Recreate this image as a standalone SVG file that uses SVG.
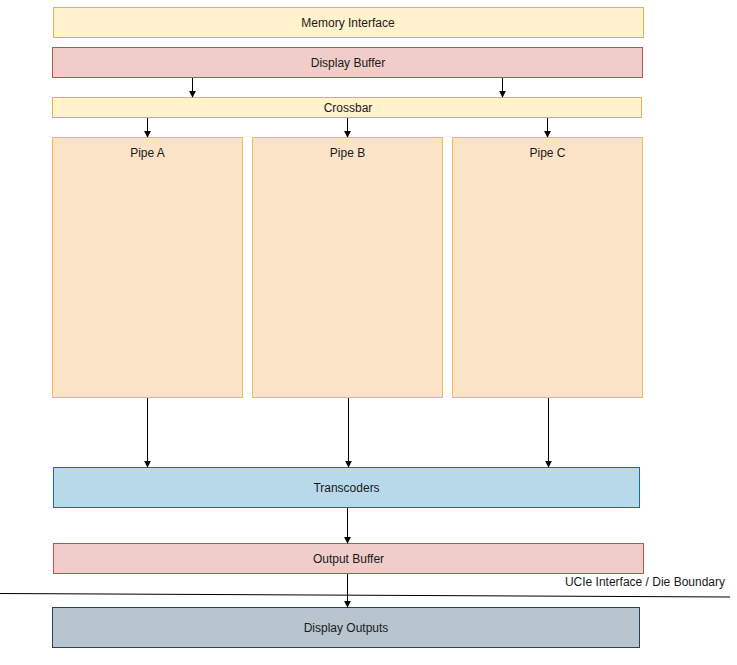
<svg xmlns="http://www.w3.org/2000/svg" width="737" height="665" viewBox="0 0 737 665">
<style>
text{font-family:"Liberation Sans",Arial,sans-serif;font-size:12px;fill:#1a1a1a;text-anchor:middle;dominant-baseline:central}
.y{fill:#fff2cc;stroke:#d6b656}
.r{fill:#f0cdc9;stroke:#b85450}
.o{fill:#fae3c7;stroke:#d79b00;stroke-opacity:0.6}
.b{fill:#b8d9ea;stroke:#10739e}
.g{fill:#b8c5ce;stroke:#23445d}
.c{stroke:#000;stroke-width:1;fill:none;marker-end:url(#ah)}
</style>
<defs>
<marker id="ah" viewBox="0 0 10 10" refX="9" refY="5" markerWidth="7" markerHeight="7" markerUnits="userSpaceOnUse" orient="auto">
<path d="M0,0 L10,5 L0,10 z" fill="#000"/>
</marker>
</defs>
<rect width="737" height="665" fill="#fff"/>
<g id="memory-interface"><rect class="y" x="53.5" y="7.5" width="590" height="30"/><text x="348" y="22.5">Memory Interface</text></g>
<g id="display-buffer"><rect class="r" x="52.5" y="47.5" width="590" height="30"/><text x="348" y="62.5">Display Buffer</text></g>
<g id="crossbar"><rect class="y" x="52.5" y="97.5" width="589" height="20"/><text x="348" y="107.5">Crossbar</text></g>
<g id="pipe-a"><rect class="o" x="52.5" y="137.5" width="190" height="260"/><text x="147.5" y="152.5">Pipe A</text></g>
<g id="pipe-b"><rect class="o" x="252.5" y="137.5" width="190" height="260"/><text x="347.5" y="152.5">Pipe B</text></g>
<g id="pipe-c"><rect class="o" x="452.5" y="137.5" width="190" height="260"/><text x="547.5" y="152.5">Pipe C</text></g>
<g id="transcoders"><rect class="b" x="53.5" y="467.5" width="586" height="40"/><text x="346.5" y="487.5">Transcoders</text></g>
<g id="output-buffer"><rect class="r" x="53.5" y="543.5" width="590" height="30"/><text x="348.5" y="558.5">Output Buffer</text></g>
<g id="display-outputs"><rect class="g" x="52.5" y="607.5" width="587" height="40"/><text x="346" y="627.5">Display Outputs</text></g>
<g id="die-boundary">
<line x1="0" y1="593.5" x2="730" y2="597" stroke="#000" stroke-width="1"/>
<text x="725" y="582" style="text-anchor:end">UCIe Interface / Die Boundary</text>
</g>
<g id="connectors">
<line class="c" x1="192.5" y1="78" x2="192.5" y2="97"/>
<line class="c" x1="502.5" y1="78" x2="502.5" y2="97"/>
<line class="c" x1="147.5" y1="118" x2="147.5" y2="137"/>
<line class="c" x1="347.5" y1="118" x2="347.5" y2="137"/>
<line class="c" x1="547.5" y1="118" x2="547.5" y2="137"/>
<line class="c" x1="147.5" y1="398" x2="147.5" y2="467"/>
<line class="c" x1="348.5" y1="398" x2="348.5" y2="467"/>
<line class="c" x1="548.5" y1="398" x2="548.5" y2="467"/>
<line class="c" x1="347.5" y1="508" x2="347.5" y2="543"/>
<line class="c" x1="347.5" y1="574" x2="347.5" y2="607"/>
</g>
</svg>
